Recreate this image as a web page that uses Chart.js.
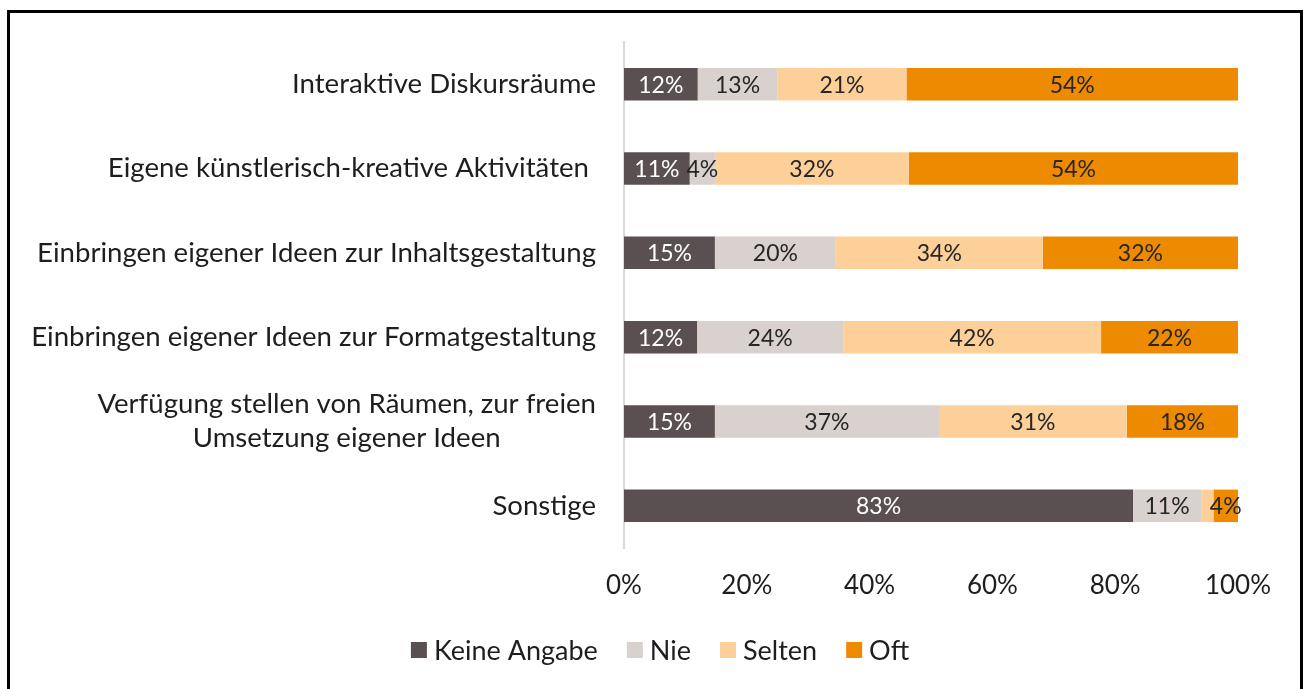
<!DOCTYPE html>
<html>
<head>
<meta charset="utf-8">
<script src="https://cdn.jsdelivr.net/npm/chart.js@4.4.1/dist/chart.umd.min.js"></script>
<style>
  html, body { margin: 0; padding: 0; background: #fff; overflow: hidden; }
  #wrap { position: relative; width: 1303px; height: 689px; }
  #c { position: absolute; left: 0; top: 0; }
  #frame { position: absolute; left: 7px; top: 10px; width: 1296px; height: 720px;
           border: 3px solid #000; box-sizing: border-box; pointer-events: none; }
</style>
</head>
<body>
<div id="wrap">
  <canvas id="c" width="1303" height="689"></canvas>
  <div id="frame"></div>
</div>
<script>
const categories = [
  'Interaktive Diskursräume',
  'Eigene künstlerisch-kreative Aktivitäten ',
  'Einbringen eigener Ideen zur Inhaltsgestaltung',
  'Einbringen eigener Ideen zur Formatgestaltung',
  ['Verfügung stellen von Räumen, zur freien', 'Umsetzung eigener Ideen'],
  'Sonstige'
];
const seriesNames = ['Keine Angabe', 'Nie', 'Selten', 'Oft'];
const keineAngabe = [12, 10.7, 14.8, 11.9, 14.8, 82.9];
const nie         = [13, 4.1, 19.7, 23.8, 36.5, 11.1];
const selten      = [21, 31.6, 33.7, 42.0, 30.6, 2.0];
const oft         = [54, 53.6, 31.8, 22.3, 18.1, 4.0];
const xTicks = [0, 20, 40, 60, 80, 100];

const colors = ['#5A5051', '#D8D1CE', '#FDD09A', '#EE8A00'];
const labelColors = ['#FFFFFF', '#262626', '#262626', '#262626'];
const FONT = 'Lato';

const seriesValues = [keineAngabe, nie, selten, oft];

const yLabelPlugin = {
  id: 'yLabels',
  afterDraw(chart) {
    const ctx = chart.ctx;
    const ys = chart.scales.y;
    const right = chart.chartArea.left - 28;
    ctx.save();
    ctx.font = '27.6px ' + FONT;
    ctx.fillStyle = '#1E1E1E';
    ctx.textBaseline = 'middle';
    ctx.textAlign = 'center';
    categories.forEach((lab, i) => {
      const lines = Array.isArray(lab) ? lab : [lab];
      const w = Math.max(...lines.map(l => ctx.measureText(l).width));
      const cx = right - w / 2;
      const yc = ys.getPixelForValue(i);
      const lh = 34;
      lines.forEach((l, k) => {
        ctx.fillText(l, cx, yc + (k - (lines.length - 1) / 2) * lh);
      });
    });
    ctx.restore();
  }
};

const dataLabelPlugin = {
  id: 'dataLabels',
  afterDatasetsDraw(chart) {
    const ctx = chart.ctx;
    ctx.save();
    ctx.font = '23px ' + FONT;
    ctx.textBaseline = 'middle';
    ctx.textAlign = 'center';
    chart.data.datasets.forEach((ds, di) => {
      const meta = chart.getDatasetMeta(di);
      meta.data.forEach((bar, i) => {
        const v = ds.data[i];
        if (v < 3) return;
        ctx.fillStyle = labelColors[di];
        ctx.fillText(Math.round(v) + '%', (bar.x + bar.base) / 2, bar.y + 1);
      });
    });
    ctx.restore();
  }
};

const legendPlugin = {
  id: 'customLegend',
  afterDraw(chart) {
    const ctx = chart.ctx;
    ctx.save();
    ctx.font = '27px ' + FONT;
    const box = 16, gapBT = 7, gapItem = 29;
    const widths = seriesNames.map(n => ctx.measureText(n).width);
    const total = widths.reduce((a, w) => a + box + gapBT + w, 0) + gapItem * (seriesNames.length - 1);
    let x = 660 - total / 2;
    const yc = 650;
    ctx.textBaseline = 'middle';
    ctx.textAlign = 'left';
    seriesNames.forEach((n, i) => {
      ctx.fillStyle = colors[i];
      ctx.fillRect(x, yc - box / 2, box, box);
      x += box + gapBT;
      ctx.fillStyle = '#1E1E1E';
      ctx.fillText(n, x, yc + 1);
      x += widths[i] + gapItem;
    });
    ctx.restore();
  }
};

function draw() {
  new Chart(document.getElementById('c'), {
    type: 'bar',
    data: {
      labels: categories,
      datasets: seriesNames.map((n, i) => ({
        label: n,
        data: seriesValues[i],
        backgroundColor: colors[i],
        borderWidth: 0,
        barPercentage: 0.385,
        categoryPercentage: 1.0
      }))
    },
    options: {
      indexAxis: 'y',
      responsive: false,
      animation: false,
      devicePixelRatio: 1,
      layout: { padding: { top: 42, right: 65, bottom: 0, left: 0 } },
      plugins: { legend: { display: false }, tooltip: { enabled: false } },
      scales: {
        y: {
          stacked: true,
          ticks: { display: false },
          grid: { display: false, drawTicks: false },
          border: { display: true, color: '#D9D9D9', width: 2 },
          afterFit(s) { s.width = 624; }
        },
        x: {
          stacked: true,
          min: 0, max: 100,
          afterBuildTicks(s) { s.ticks = xTicks.map(v => ({ value: v })); },
          ticks: {
            callback: v => v + '%',
            font: { family: FONT, size: 26 },
            color: '#1E1E1E',
            padding: 22,
            maxRotation: 0
          },
          grid: { display: false, drawTicks: false },
          border: { display: false },
          afterFit(s) { s.height = 141; }
        }
      }
    },
    plugins: [yLabelPlugin, dataLabelPlugin, legendPlugin]
  });
}

if (document.fonts && document.fonts.load) {
  document.fonts.load('26px ' + FONT).then(draw, draw);
} else { draw(); }
</script>
</body>
</html>
